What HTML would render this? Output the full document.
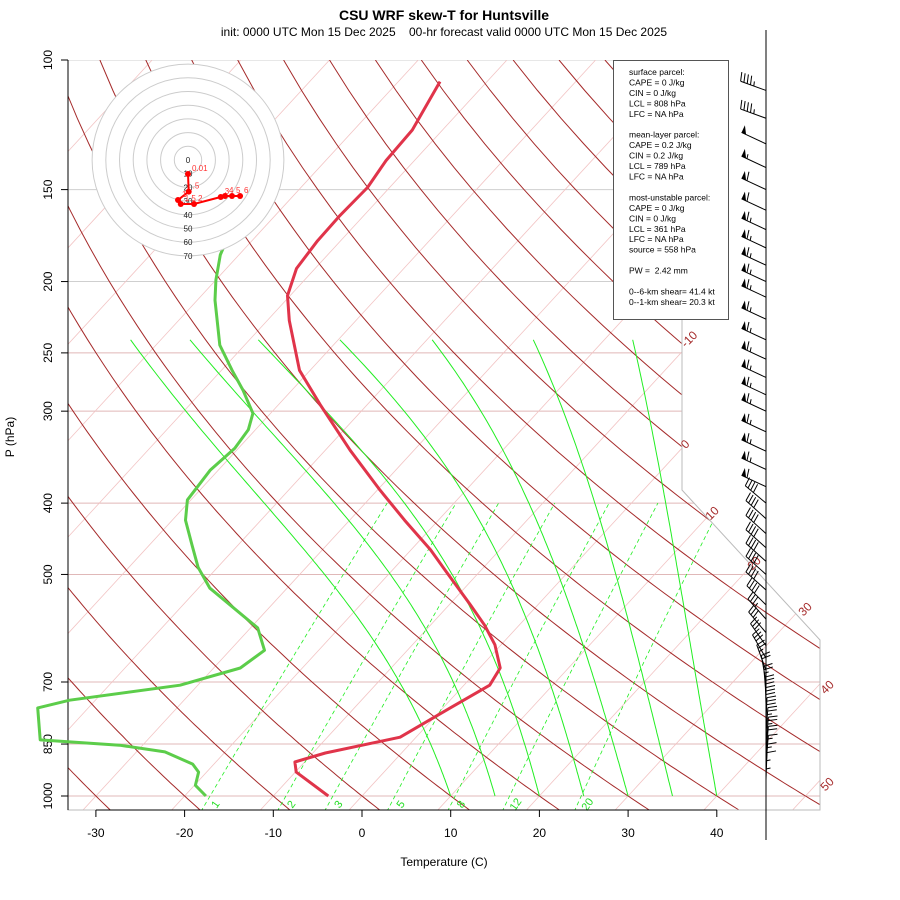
<!DOCTYPE html>
<html><head><meta charset="utf-8">
<style>
html,body{margin:0;padding:0;background:#fff}
svg{display:block;font-family:"Liberation Sans",sans-serif}
</style></head>
<body>
<svg id="chart" width="900" height="900" viewBox="0 0 900 900" xmlns="http://www.w3.org/2000/svg">
<defs>
<clipPath id="plotclip"><polygon points="68,60 682,60 682,490 820,640 820,810 68,810"/></clipPath>
</defs>
<text x="444" y="20" font-size="14" font-weight="bold" text-anchor="middle">CSU WRF skew-T for Huntsville</text>
<text x="444" y="36" font-size="12" text-anchor="middle" style="white-space:pre">init: 0000 UTC Mon 15 Dec 2025    00-hr forecast valid 0000 UTC Mon 15 Dec 2025</text>
<g id="grid" clip-path="url(#plotclip)"></g>
<polyline points="68,60 68,810 820,810 820,640 682,490 682,60" fill="none" stroke="#bbb" stroke-width="1"/>
<line x1="68" y1="60" x2="68" y2="810" stroke="#000"/>
<g id="axes"></g>
<g id="series"></g>
<g id="hodo"></g>
<g id="legend"></g>
<g id="barbs"></g>
<text x="14" y="437" font-size="12" text-anchor="middle" transform="rotate(-90 14 437)">P (hPa)</text>
<text x="444" y="866" font-size="12" text-anchor="middle">Temperature (C)</text>
</svg>
<script>
// ---- data ----
var tempP = [1000,928,899,874,832,759,707,670,623,586,550,493,463,422,384,339,294,264,226,209,192,176,163,149,137,124.5,107];
var tempT = [-3.8,-9.9,-11.1,-8.6,-1.8,0.8,2.9,2.3,-0.7,-3.9,-7.6,-14.1,-17.8,-23.8,-29.7,-37.2,-45.3,-51.2,-57.5,-60.3,-62.1,-62.6,-62.7,-62.5,-63.2,-63.4,-65.3];
var dewP = [1000,967,928,905,871,853,839,759,741,707,670,634,591,522,489,456,422,396,361,337,318,302,281,264,244,212,199,184,170];
var dewT = [-17.6,-19.9,-20.9,-22.4,-26.8,-32.6,-42.1,-45.7,-42.9,-32.0,-27.0,-26.1,-29.2,-38.7,-42.2,-45.2,-48.5,-50.4,-50.9,-50.4,-50.8,-52.0,-55.5,-58.8,-62.8,-68.0,-70.0,-72.1,-73.5];
var pTicks = [100,150,200,250,300,400,500,700,850,1000];
var tTicks = [-30,-20,-10,0,10,20,30,40];
var mixRatios = [1,2,3,5,8,12,20];
var moistThetas = [10,15,20,25,30,35,40];
var moistTops = [-73.4,-66.7,-59,-49.8,-39.4,-28,-16.8];
var hodoU = [0,0.5,-7.3,-5.3,4.4,23.9,27,32.1,38];
var hodoV = [-10.2,-23.1,-29.2,-32.1,-32.1,-27,-26.3,-26.3,-26.3];
var hodoLabels = ["0.01",".5","1","1.5","2","3","4","5","6"];
var barbP = [110,120,130,140,150,160,170,180,190,200,210,225,240,255,270,285,300,320,340,360,380,400,420,440,460,480,500,525,550,575,600,625,650,675,700,725,750,775,800,825,850,875,900,925,950,975,1000];
var barbSpd = [45,45,50,55,60,60,65,65,65,65,65,65,65,65,65,65,65,65,65,65,60,40,40,40,40,40,40,40,40,35,30,30,30,25,20,25,30,30,30,25,25,20,15,15,10,5,5];
var barbDir = [290,290,295,295,295,295,295,295,295,295,295,295,295,295,295,295,295,295,295,295,295,310,312,312,312,312,312,312,315,318,320,325,330,340,350,355,358,0,2,4,5,5,5,3,2,0,0];

// ---- axis functions ----
var SKEW=0.92;
function yP(p){return 60+736*Math.log10(p/100);}
function xT(t,p){return 362+8.87*t+SKEW*(796-yP(p));}
var NS="http://www.w3.org/2000/svg";
function mk(tag,attrs,parent){var e=document.createElementNS(NS,tag);for(var k in attrs)e.setAttribute(k,attrs[k]);parent.appendChild(e);return e;}
var grid=document.getElementById('grid'),axes=document.getElementById('axes'),series=document.getElementById('series');

pTicks.forEach(function(p){
  var l=mk('line',{x1:68,x2:820,y1:yP(p),y2:yP(p),stroke:(p>=250?'#e0b8b8':'#cfcfcf'),'stroke-width':1},grid);
  
  
});
for(var t=-120;t<=60;t+=10){
  var l=mk('line',{x1:xT(t,1050),y1:yP(1050),x2:xT(t,100),y2:yP(100),stroke:'#f2c4c4','stroke-width':0.8},grid);
  
  
}
for(var th=-40;th<=200;th+=10){
  var pts=[];
  for(var p=1050;p>=100;p-=10){var T=(th+273.15)*Math.pow(p/1000,0.286)-273.15;pts.push(xT(T,p).toFixed(1)+','+yP(p).toFixed(1));}
  var l=mk('polyline',{points:pts.join(' '),fill:'none',stroke:'#a52a2a','stroke-width':1},grid);
  
  
}
function es(Tc){return 6.112*Math.exp(17.67*Tc/(Tc+243.5));}
moistThetas.forEach(function(th,k){
  var T=th+273.15,ps=[],ts=[];
  for(var p=1000;p>=240;p-=5){
    ps.push(p);ts.push(T-273.15);
    var e=es(T-273.15),rs=0.622*e/(p-e);
    var dTdp=(287*T+2.5e6*rs)/(p*(1004+2.5e6*2.5e6*rs*0.622/(287*T*T)));
    T-=dTdp*5;
  }
  var delta=moistTops[k]-ts[ts.length-1],y0=yP(1000),y1=yP(240);
  var pts=ps.map(function(p,i){var f=(y0-yP(p))/(y0-y1);return xT(ts[i]+delta*f,p).toFixed(1)+','+yP(p).toFixed(1);});
  var l=mk('polyline',{points:pts.join(' '),fill:'none',stroke:'#22ee22','stroke-width':1},grid);
  
  
});
mixRatios.forEach(function(w){
  var pts=[];
  for(var p=1050;p>=400;p-=10){var e=w*p/(622+w),L=Math.log(e/6.112),Td=243.5*L/(17.67-L);pts.push(xT(Td,p).toFixed(1)+','+yP(p).toFixed(1));}
  var l=mk('polyline',{points:pts.join(' '),fill:'none',stroke:'#22ee22','stroke-width':0.8,'stroke-dasharray':'4,3'},grid);
  
  
  var e=w*1020/(622+w),L=Math.log(e/6.112),Td=243.5*L/(17.67-L),lx=xT(Td,1020)+12,ly=yP(1020)+4;
  var tx=mk('text',{x:lx,y:ly,'font-size':11,fill:'#22dd22','text-anchor':'middle',transform:'rotate(-55 '+lx+' '+ly+')'},axes);
  tx.textContent=w;
  
  
});
[[-10,692,342],[0,688,447],[10,715,516],[20,757,566],[30,808,612],[40,830,690],[50,830,787]].forEach(function(a){
  var tx=mk('text',{x:a[1],y:a[2],'font-size':12,fill:'#a52a2a','text-anchor':'middle',transform:'rotate(-45 '+a[1]+' '+a[2]+')'},axes);
  tx.textContent=a[0];
  
  
});
mk('line',{x1:96,x2:717,y1:810,y2:810,stroke:'#000'},axes);
tTicks.forEach(function(t){
  var x=362+8.87*t;
  mk('line',{x1:x,x2:x,y1:810,y2:817,stroke:'#000'},axes);
  var tx=mk('text',{x:x,y:837,'font-size':12,'text-anchor':'middle'},axes);
  tx.textContent=t;
  
  
});
pTicks.forEach(function(p){
  var y=yP(p);
  mk('line',{x1:61,x2:68,y1:y,y2:y,stroke:'#000'},axes);
  var tx=mk('text',{x:52,y:y,'font-size':12,'text-anchor':'middle',transform:'rotate(-90 52 '+y+')'},axes);
  tx.textContent=p;
  
  
});
function line(P,T,col,name){
  var pts=P.map(function(p,i){return xT(T[i],p).toFixed(1)+','+yP(p).toFixed(1);});
  var l=mk('polyline',{points:pts.join(' '),fill:'none',stroke:col,'stroke-width':3,'stroke-linejoin':'round'},series);
  
  
}
line(dewP,dewT,'#5ccd4a','dewpoint-profile');
line(tempP,tempT,'#e0344a','temperature-profile');

var hodo=document.getElementById('hodo'),HX=188,HY=160,HS=1.37;
mk('circle',{cx:HX,cy:HY,r:96,fill:'#fff',stroke:'none'},hodo);
for(var r=10;r<=70;r+=10){
  var c=mk('circle',{cx:HX,cy:HY,r:r*HS,fill:'none',stroke:'#ccc','stroke-width':1},hodo);
  
  
}
for(var r=0;r<=70;r+=10){
  var tx=mk('text',{x:HX,y:HY+r*HS+3,'font-size':8,'text-anchor':'middle',fill:'#222'},hodo);
  tx.textContent=r;
}
var hp=hodoU.map(function(u,i){return (HX+u*HS).toFixed(1)+','+(HY-hodoV[i]*HS).toFixed(1);});
var hl=mk('polyline',{points:hp.join(' '),fill:'none',stroke:'#f00','stroke-width':2},hodo);


hodoU.forEach(function(u,i){
  var x=HX+u*HS,y=HY-hodoV[i]*HS;
  var c=mk('circle',{cx:x,cy:y,r:3,fill:'#f00'},hodo);
  
  
  var tx=mk('text',{x:x+4,y:y-3,'font-size':8,fill:'#f33'},hodo);
  tx.textContent=hodoLabels[i];
});

var lg=document.getElementById('legend');
var box=mk('rect',{x:613.5,y:60.5,width:115,height:259,fill:'#fff',stroke:'#555'},lg);


var lines=["surface parcel:","CAPE = 0 J/kg","CIN = 0 J/kg","LCL = 808 hPa","LFC = NA hPa","","mean-layer parcel:","CAPE = 0.2 J/kg","CIN = 0.2 J/kg","LCL = 789 hPa","LFC = NA hPa","","most-unstable parcel:","CAPE = 0 J/kg","CIN = 0 J/kg","LCL = 361 hPa","LFC = NA hPa","source = 558 hPa","","PW =  2.42 mm","","0--6-km shear= 41.4 kt","0--1-km shear= 20.3 kt"];
lines.forEach(function(s,i){
  if(!s)return;
  var tx=mk('text',{x:629,y:75+i*10.45,'font-size':8.5,style:'white-space:pre'},lg);
  tx.textContent=s;
  
  
});

var bg=document.getElementById('barbs');
mk('line',{x1:766,x2:766,y1:30,y2:840,stroke:'#000','stroke-width':1},bg);
barbP.forEach(function(p,i){
  var y=yP(p),d=barbDir[i]*Math.PI/180,L=27;
  var sx=Math.sin(d),sy=-Math.cos(d);
  var g=mk('g',{},bg);
  
  
  var tx=766+sx*L,ty=y+sy*L;
  mk('line',{x1:766,y1:y,x2:tx,y2:ty,stroke:'#000','stroke-width':1},g);
  var px=-sy,py=sx;
  var spd=barbSpd[i],pos=0,step=3.5;
  while(spd>=50){
    var bx=tx-sx*pos,by=ty-sy*pos;
    mk('polygon',{points:bx+','+by+' '+(bx+px*8)+','+(by+py*8)+' '+(bx-sx*5)+','+(by-sy*5),fill:'#000'},g);
    pos+=6;spd-=50;
  }
  while(spd>=10){
    var bx=tx-sx*pos,by=ty-sy*pos;
    mk('line',{x1:bx,y1:by,x2:bx+px*9+sx*2,y2:by+py*9+sy*2,stroke:'#000'},g);
    pos+=step;spd-=10;
  }
  if(spd>=5){
    var bx=tx-sx*pos,by=ty-sy*pos;
    mk('line',{x1:bx,y1:by,x2:bx+px*4.5+sx*1,y2:by+py*4.5+sy*1,stroke:'#000'},g);
  }
});
</script>
</body></html>
